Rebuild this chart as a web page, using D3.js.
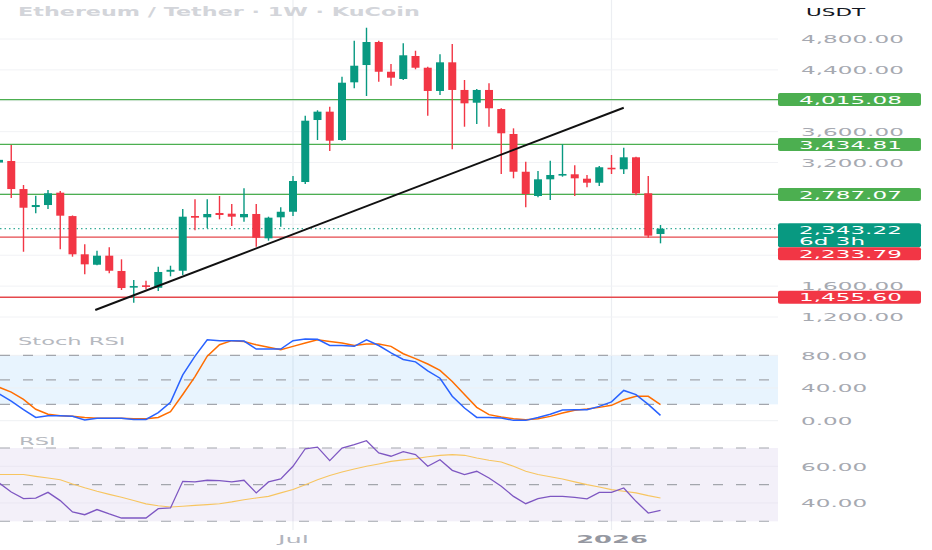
<!DOCTYPE html>
<html>
<head>
<meta charset="utf-8">
<script src="https://cdn.jsdelivr.net/npm/d3@7"></script>
<style>
html, body { margin: 0; padding: 0; background: #fff; }
svg { display: block; font-family: "DejaVu Sans", sans-serif; }
</style>
</head>
<body>
<svg id="chart" width="932" height="550"></svg>
<script>
// weekly candles, ETH/USDT KuCoin
const weeks = ["2025-01-20","2025-01-27","2025-02-03","2025-02-10","2025-02-17","2025-02-24","2025-03-03","2025-03-10","2025-03-17","2025-03-24",
  "2025-03-31","2025-04-07","2025-04-14","2025-04-21","2025-04-28","2025-05-05","2025-05-12","2025-05-19","2025-05-26","2025-06-02",
  "2025-06-09","2025-06-16","2025-06-23","2025-06-30","2025-07-07","2025-07-14","2025-07-21","2025-07-28","2025-08-04","2025-08-11",
  "2025-08-18","2025-08-25","2025-09-01","2025-09-08","2025-09-15","2025-09-22","2025-09-29","2025-10-06","2025-10-13","2025-10-20",
  "2025-10-27","2025-11-03","2025-11-10","2025-11-17","2025-11-24","2025-12-01","2025-12-08","2025-12-15","2025-12-22","2025-12-29",
  "2026-01-05","2026-01-12","2026-01-19","2026-01-26","2026-02-02"];
const opens = [3200,3220,2857,2624,2650,2810,2507,2012,1877,1994,1796,1588,1610,1579,1786,1799,2508,2491,2547,2538,
  2491,2534,2219,2491,2563,2948,3751,3859,3492,4239,4463,4761,4376,4282,4580,4428,4127,4498,4140,3975,
  4140,3893,3570,3081,2767,2983,3035,3048,2991,2939,3133,3113,3268,2802,2275];
const highs = [3330,3427,2909,2771,2845,2832,2515,2141,2058,2102,1947,1679,1670,1851,1864,2598,2724,2724,2767,2663,
  2867,2663,2499,2620,3026,3807,3877,3923,4312,4778,4946,4778,4476,4744,4648,4441,4602,4735,4269,4153,
  4226,3903,3643,3211,3091,3224,3436,3164,3039,3155,3298,3392,3276,3026,2391];
const lows = [3100,2741,2045,2543,2598,2077,1981,1753,1869,1766,1550,1385,1559,1537,1727,1744,2323,2348,2465,2378,
  2434,2110,2188,2369,2508,2922,3492,3350,3483,4162,4062,4247,4195,4269,4408,3807,4075,3372,3664,3699,
  3664,3052,2996,2620,2750,2715,3017,2767,2880,2896,3052,3052,2776,2227,2154];
const closes = [3235,2857,2615,2650,2802,2512,2012,1882,1994,1799,1575,1601,1592,1783,1811,2499,2486,2534,2521,2499,
  2534,2227,2486,2563,2961,3742,3859,3483,4234,4454,4761,4376,4299,4589,4428,4127,4498,4140,3967,4140,
  3903,3579,3081,2793,2983,3039,3052,2996,2939,3139,3113,3268,2802,2253,2343.22];

// Stoch RSI %K / %D
const stochK = [33,24,13.5,4,6,6,5.5,1,3,3,3,1.5,1.5,10,22.5,56,79,99,98,98,
  97.5,87.7,87.7,87.7,98,100,99.6,92,92,91,99,92,83,75,72,61,52,30,15.5,4,
  4,3.3,0.4,0.4,4,8,13,13.5,13.5,17.5,23,37,32,20,6.5];
const stochD = [41,35,26,14,8,6,5.5,4,3,3,3,2.5,2.5,4,11,32,54,79,93,98,
  97,93,90,87,91,95,99,97,95,92,94,94,91,82,76,69.4,61.6,48,32,16.3,
  7.4,4.5,2.5,1.2,2.5,5.3,9.4,12.7,14.3,16.3,18.8,25.7,29.8,29.8,19.6];

// RSI and its moving average
const rsi = [51,46,42.4,42.7,45.8,41.3,35.1,33.6,36.4,34,31.8,31.8,31.8,36.9,37.3,51.8,51.5,52.4,52.2,51.5,
  52.4,45.5,51.5,53.1,60,69.6,70.5,63.1,70,71.8,74,67.3,65.5,68,66.4,60,63.6,57.8,55.5,57.3,
  53.6,49.1,43.6,39.6,42.4,43.6,43.6,43.1,42.2,45.8,45.8,48.2,40.9,34.5,36];
const rsiMA = [55.5,55.5,55.5,54.5,53.6,52.7,50.4,48.3,46.4,44.7,43.1,41.3,39.5,38.5,37.8,38.2,38.7,39.1,39.6,40.6,
  41.8,42.7,43.6,45.5,47.3,50,52.7,55,56.9,58.5,60,61.3,62.7,63.5,64.2,65.2,66,66.4,66,64.5,
  63.3,62.4,60,57.3,55.5,54.3,53.1,51.5,50,48.7,47.3,46.4,45.5,44,42.7];

const greenLevels = [4015.08, 3434.81, 2787.07];
const redLevels = [2233.79, 1455.60];
const lastPrice = 2343.22;
const lastCountdown = "6d 3h";
const trendDates = ["2025-03-16", "2026-01-12"];
const trendPrices = [1290, 3910];

const priceTicks = [1200,1600,2000,2400,2800,3200,3600,4000,4400,4800];
const stochTicks = [0, 40, 80];
const stochBands = [20, 50, 80];
const rsiTicks = [40, 60];
const rsiBands = [30, 50, 70];
const xTickDates = ["2025-07-07", "2026-01-05"];
const xTickLabels = ["Jul", "2026"];

const title = "Ethereum / Tether · 1W · KuCoin";

const UP = "#089981", DOWN = "#f23645", LVL_GREEN = "#4caf50";
const SX = 2.2;
const W = 932, plotR = 778;
const parse = d3.utcParse("%Y-%m-%d");
const dates = weeks.map(parse);
const candles = dates.map((d, i) => ({ d, o: opens[i], h: highs[i], l: lows[i], c: closes[i] }));

const wk = 7 * 864e5;
const pxPerWeek = 12.25;
const t0 = +dates[0];
const x = d3.scaleUtc()
  .domain([new Date(t0 + wk / pxPerWeek), new Date(t0 + wk * (plotR + 1) / pxPerWeek)])
  .range([0, plotR]);

const y = d3.scaleLinear().domain([1200, 4800]).range([317, 39]);
const ys = d3.scaleLinear().domain([0, 100]).range([420.7, 339]);
const yr = d3.scaleLinear().domain([30, 70]).range([521.3, 448]);

const svg = d3.select("#chart");
svg.append("rect").attr("width", W).attr("height", 550).attr("fill", "#fff");

function sText(g, px, py, str, o = {}) {
  return g.append("text")
    .attr("transform", `translate(${px},${py}) scale(${o.sx || SX},1)`)
    .attr("text-anchor", o.anchor || "start")
    .attr("dominant-baseline", "central")
    .attr("font-size", o.size || 10.5)
    .attr("font-weight", o.weight || 400)
    .attr("fill", o.fill || "#a6a9b1")
    .text(str);
}

function styleAxisText(sel, extra) {
  sel.attr("x", 0).attr("dy", null)
    .attr("dominant-baseline", "central")
    .attr("transform", `scale(${extra || SX},1)`)
    .attr("font-size", 10.5).attr("fill", "#a6a9b1").attr("font-family", "DejaVu Sans");
}

// clip paths for panes
const defs = svg.append("defs");
defs.append("clipPath").attr("id", "mainClip").append("rect").attr("x", 0).attr("y", 0).attr("width", plotR).attr("height", 330);
defs.append("clipPath").attr("id", "subClip").append("rect").attr("x", 0).attr("y", 330).attr("width", plotR).attr("height", 200);

// vertical grid
const xTicks = xTickDates.map(parse);
svg.append("g").selectAll("line").data(xTicks).enter().append("line")
  .attr("x1", d => x(d)).attr("x2", d => x(d))
  .attr("y1", 0).attr("y2", 530)
  .attr("stroke", "#eceef2").attr("stroke-width", 1.2);

// horizontal grid main
svg.append("g").selectAll("line").data(priceTicks).enter().append("line")
  .attr("x1", 0).attr("x2", plotR)
  .attr("y1", d => y(d)).attr("y2", d => y(d))
  .attr("stroke", "#f1f2f5");

// title
sText(svg, 18, 12, title, { size: 11.5, weight: 700, fill: "#d3d5da", sx: 1.94 });

// levels
const main = svg.append("g").attr("clip-path", "url(#mainClip)");
main.selectAll(".lvlG").data(greenLevels).enter().append("line")
  .attr("x1", 0).attr("x2", plotR)
  .attr("y1", d => y(d)).attr("y2", d => y(d))
  .attr("stroke", LVL_GREEN).attr("stroke-width", 1.3);
main.selectAll(".lvlR").data(redLevels).enter().append("line")
  .attr("x1", 0).attr("x2", plotR)
  .attr("y1", d => y(d)).attr("y2", d => y(d))
  .attr("stroke", "#e5484d").attr("stroke-width", 1.3);

// last price dotted line
main.append("line")
  .attr("x1", 0).attr("x2", plotR)
  .attr("y1", y(lastPrice)).attr("y2", y(lastPrice))
  .attr("stroke", UP).attr("stroke-width", 1).attr("stroke-dasharray", "1.5,3");

// candles
const bw = 8;
const cg = main.append("g");
cg.selectAll(".wick").data(candles).enter().append("line")
  .attr("x1", d => x(d.d)).attr("x2", d => x(d.d))
  .attr("y1", d => y(d.h)).attr("y2", d => y(d.l))
  .attr("stroke", d => d.c >= d.o ? UP : DOWN).attr("stroke-width", 1.4);
cg.selectAll(".body").data(candles).enter().append("rect")
  .attr("x", d => x(d.d) - bw / 2)
  .attr("y", d => y(Math.max(d.o, d.c)))
  .attr("width", bw)
  .attr("height", d => Math.max(1.6, Math.abs(y(d.o) - y(d.c))))
  .attr("fill", d => d.c >= d.o ? UP : DOWN);

// trend line
const tl = trendDates.map((d, i) => [x(parse(d)), y(trendPrices[i])]);
main.append("path").attr("d", d3.line()(tl))
  .attr("stroke", "#111").attr("stroke-width", 2).attr("fill", "none");

// label boxes on the price scale: [top, bottom, color, text lines]
const ly = y(lastPrice);
const boxes = [];
greenLevels.forEach(v => boxes.push({ top: y(v) - 6.5, h: 13, col: LVL_GREEN, lines: [d3.format(",.2f")(v)] }));
boxes.push({ top: ly - 5.5, h: 24, col: UP, lines: [d3.format(",.2f")(lastPrice), lastCountdown] });
redLevels.forEach((v, i) => {
  const cy = i === 0 ? Math.max(y(v), ly + 25) : y(v);
  boxes.push({ top: cy - 6.5, h: 13, col: DOWN, lines: [d3.format(",.2f")(v)] });
});

// price axis: tick labels that sit under a box are hidden
const visibleTicks = priceTicks.filter(t => boxes.every(b => y(t) < b.top - 3.5 || y(t) > b.top + b.h + 3.5));
const pAxis = svg.append("g").attr("transform", "translate(801,0)")
  .call(d3.axisRight(y).tickValues(visibleTicks).tickFormat(d3.format(",.2f")).tickSize(0).tickPadding(0));
pAxis.select(".domain").remove();
styleAxisText(pAxis.selectAll("text"));

sText(svg, 806, 12, "USDT", { fill: "#131722", size: 10.5, sx: 2.05 });

boxes.forEach(b => {
  svg.append("rect").attr("x", plotR).attr("y", b.top).attr("width", 143).attr("height", b.h)
    .attr("rx", 2).attr("fill", b.col);
  b.lines.forEach((s, i) => sText(svg, 799, b.top + 6.8 + i * 11.5, s, { fill: "#fff" }));
});

// ---- Stoch RSI pane ----
const sub = svg.append("g").attr("clip-path", "url(#subClip)");
sub.append("rect").attr("x", 0).attr("width", plotR)
  .attr("y", ys(80)).attr("height", ys(20) - ys(80))
  .attr("fill", "rgba(33,150,243,0.1)");
sub.selectAll(".sgrid").data(stochTicks).enter().append("line")
  .attr("x1", 0).attr("x2", plotR).attr("y1", d => ys(d)).attr("y2", d => ys(d))
  .attr("stroke", "#eef0f3");
sub.selectAll(".sband").data(stochBands).enter().append("line")
  .attr("x1", 0).attr("x2", plotR).attr("y1", d => ys(d)).attr("y2", d => ys(d))
  .attr("stroke", "#a3a6ad").attr("stroke-dasharray", "10,13").attr("stroke-width", 1.1);

sub.append("path").datum(stochD)
  .attr("d", d3.line().x((d, i) => x(dates[i])).y(d => ys(d)))
  .attr("fill", "none").attr("stroke", "#ff6d00").attr("stroke-width", 1.5);
sub.append("path").datum(stochK)
  .attr("d", d3.line().x((d, i) => x(dates[i])).y(d => ys(d)))
  .attr("fill", "none").attr("stroke", "#2962ff").attr("stroke-width", 1.5);

sText(svg, 18, 341, "Stoch RSI", { fill: "#b6b9c0", sx: 2.15 });

const sAxis = svg.append("g").attr("transform", "translate(801,0)")
  .call(d3.axisRight(ys).tickValues(stochTicks).tickFormat(d3.format(".2f")).tickSize(0).tickPadding(0));
sAxis.select(".domain").remove();
styleAxisText(sAxis.selectAll("text"));

// ---- RSI pane ----
sub.append("rect").attr("x", 0).attr("width", plotR)
  .attr("y", yr(70)).attr("height", yr(30) - yr(70))
  .attr("fill", "rgba(126,87,194,0.09)");
sub.selectAll(".rgrid").data(rsiTicks).enter().append("line")
  .attr("x1", 0).attr("x2", plotR).attr("y1", d => yr(d)).attr("y2", d => yr(d))
  .attr("stroke", "#eae7f2");
sub.selectAll(".rband").data(rsiBands).enter().append("line")
  .attr("x1", 0).attr("x2", plotR).attr("y1", d => yr(d)).attr("y2", d => yr(d))
  .attr("stroke", "#a3a6ad").attr("stroke-dasharray", "10,13").attr("stroke-width", 1.1);

sub.append("path").datum(rsiMA)
  .attr("d", d3.line().x((d, i) => x(dates[i])).y(d => yr(d)))
  .attr("fill", "none").attr("stroke", "#f7c560").attr("stroke-width", 1.1);
sub.append("path").datum(rsi)
  .attr("d", d3.line().x((d, i) => x(dates[i])).y(d => yr(d)))
  .attr("fill", "none").attr("stroke", "#7e57c2").attr("stroke-width", 1.3);

sText(svg, 19, 441, "RSI", { fill: "#b6b9c0", sx: 2.15 });

const rAxis = svg.append("g").attr("transform", "translate(801,0)")
  .call(d3.axisRight(yr).tickValues(rsiTicks).tickFormat(d3.format(".2f")).tickSize(0).tickPadding(0));
rAxis.select(".domain").remove();
styleAxisText(rAxis.selectAll("text"));

// ---- time axis ----
const xAxis = svg.append("g").attr("transform", "translate(0,540)")
  .call(d3.axisBottom(x).tickValues(xTicks).tickFormat((d, i) => xTickLabels[i]).tickSize(0).tickPadding(0));
xAxis.select(".domain").remove();
xAxis.selectAll("text").attr("y", 0).attr("dy", null)
  .attr("dominant-baseline", "central")
  .attr("transform", "scale(2.45,1)")
  .attr("font-size", 10.5).attr("font-family", "DejaVu Sans")
  .attr("font-weight", (d, i) => i === 1 ? 700 : 400)
  .attr("fill", (d, i) => i === 1 ? "#9598a1" : "#b2b5be");
</script>
</body>
</html>
